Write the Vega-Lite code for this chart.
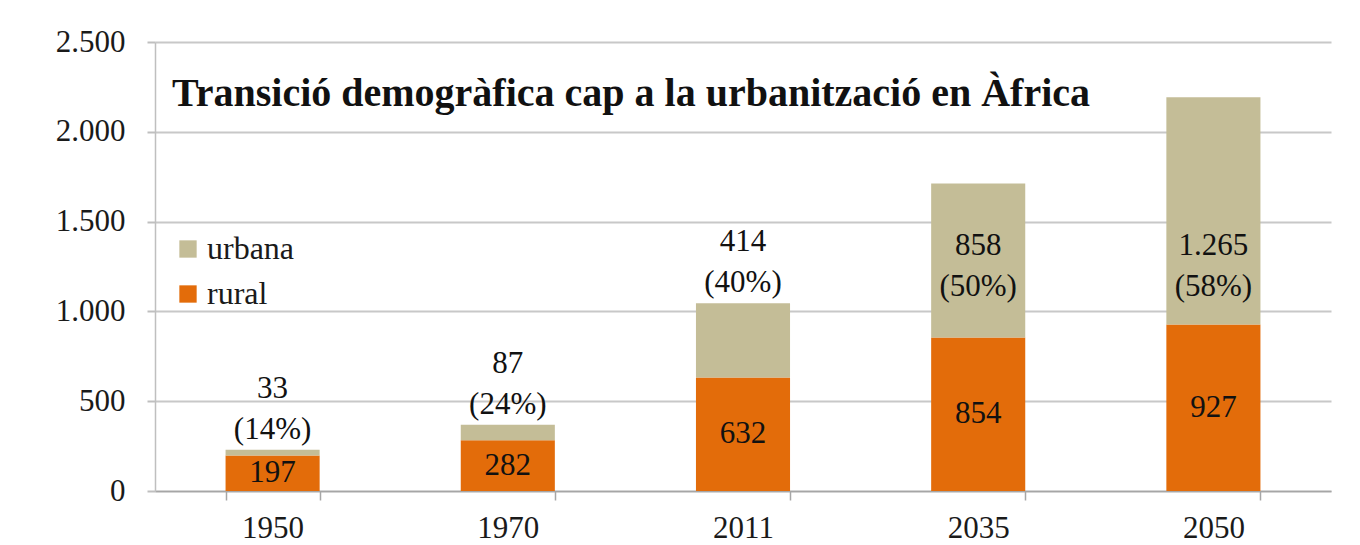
{
  "$schema": "https://vega.github.io/schema/vega-lite/v6.json",
  "width": 1176,
  "height": 449,
  "autosize": {"type": "none"},
  "padding": {"left": 155, "top": 42, "right": 29, "bottom": 54},
  "background": "white",
  "title": {
    "text": "Transició demogràfica cap a la urbanització en Àfrica",
    "font": "Liberation Serif",
    "fontSize": 40,
    "fontWeight": "bold",
    "color": "#111111",
    "anchor": "start",
    "frame": "group",
    "orient": "top",
    "baseline": "alphabetic",
    "dx": 17,
    "offset": -120
  },
  "data": {
    "values": [
      {"year": "1950", "type": "rural", "value": 197, "label": "197"},
      {"year": "1950", "type": "urbana", "value": 33, "label": "33\n(14%)"},
      {"year": "1970", "type": "rural", "value": 282, "label": "282"},
      {"year": "1970", "type": "urbana", "value": 87, "label": "87\n(24%)"},
      {"year": "2011", "type": "rural", "value": 632, "label": "632"},
      {"year": "2011", "type": "urbana", "value": 414, "label": "414\n(40%)"},
      {"year": "2035", "type": "rural", "value": 854, "label": "854"},
      {"year": "2035", "type": "urbana", "value": 858, "label": "858\n(50%)"},
      {"year": "2050", "type": "rural", "value": 927, "label": "927"},
      {"year": "2050", "type": "urbana", "value": 1265, "label": "1.265\n(58%)"}
    ]
  },
  "encoding": {
    "x": {
      "field": "year",
      "type": "nominal",
      "scale": {"paddingInner": 0.6, "paddingOuter": 0.3},
      "axis": {
        "title": null,
        "labelAngle": 0,
        "labelFont": "Liberation Serif",
        "labelFontSize": 31,
        "labelColor": "#1a1a1a",
        "labelPadding": 13,
        "tickBand": "extent",
        "tickSize": 9,
        "tickColor": "#a6a6a6",
        "tickWidth": 1.5,
        "domainColor": "#a6a6a6",
        "domainWidth": 1.5,
        "grid": false
      }
    }
  },
  "layer": [
    {
      "mark": {"type": "bar"},
      "encoding": {
        "y": {
          "field": "value",
          "type": "quantitative",
          "stack": "zero",
          "scale": {"domain": [0, 2500], "nice": false},
          "axis": {
            "title": null,
            "values": [0, 500, 1000, 1500, 2000, 2500],
            "labelExpr": "replace(format(datum.value, ','), ',', '.')",
            "labelFont": "Liberation Serif",
            "labelFontSize": 31,
            "labelColor": "#1a1a1a",
            "labelPadding": 22,
            "tickSize": 8,
            "tickColor": "#bfbfbf",
            "tickWidth": 2,
            "domainColor": "#bfbfbf",
            "domainWidth": 1.5,
            "grid": true,
            "gridColor": "#c8c8c8",
            "gridWidth": 2
          }
        },
        "color": {
          "field": "type",
          "type": "nominal",
          "scale": {"domain": ["urbana", "rural"], "range": ["#C4BD97", "#E36C0A"]},
          "legend": {
            "title": null,
            "orient": "none",
            "legendX": 17,
            "legendY": 191,
            "padding": 0,
            "symbolType": "square",
            "symbolSize": 300,
            "symbolStrokeWidth": 0,
            "labelFont": "Liberation Serif",
            "labelFontSize": 32,
            "labelColor": "#1a1a1a",
            "labelOffset": 3,
            "rowPadding": 13
          }
        },
        "order": {"field": "type", "sort": "ascending"}
      }
    },
    {
      "transform": [{"filter": "datum.type == 'rural'"}],
      "mark": {"type": "text", "font": "Liberation Serif", "fontSize": 31, "color": "#111111", "baseline": "middle"},
      "encoding": {
        "y": {"field": "value", "type": "quantitative", "stack": "zero", "bandPosition": 0.5},
        "text": {"field": "label"}
      }
    },
    {
      "transform": [{"filter": "datum.year == '1950' || datum.year == '1970' || datum.year == '2011'"}],
      "mark": {"type": "text", "font": "Liberation Serif", "fontSize": 31, "color": "#111111", "baseline": "bottom", "lineBreak": "\n", "lineHeight": 41, "dy": -45},
      "encoding": {
        "y": {"field": "value", "type": "quantitative", "stack": "zero"},
        "order": {"field": "type", "sort": "ascending"},
        "text": {"condition": {"test": "datum.type == 'urbana'", "field": "label"}, "value": ""}
      }
    },
    {
      "transform": [{"filter": "datum.type == 'urbana' && (datum.year == '2035' || datum.year == '2050')"}],
      "mark": {"type": "text", "font": "Liberation Serif", "fontSize": 31, "color": "#111111", "baseline": "middle", "lineBreak": "\n", "lineHeight": 41, "dy": -18},
      "encoding": {
        "y": {"datum": 1265, "type": "quantitative"},
        "text": {"field": "label"}
      }
    }
  ],
  "config": {"view": {"stroke": null}}
}
